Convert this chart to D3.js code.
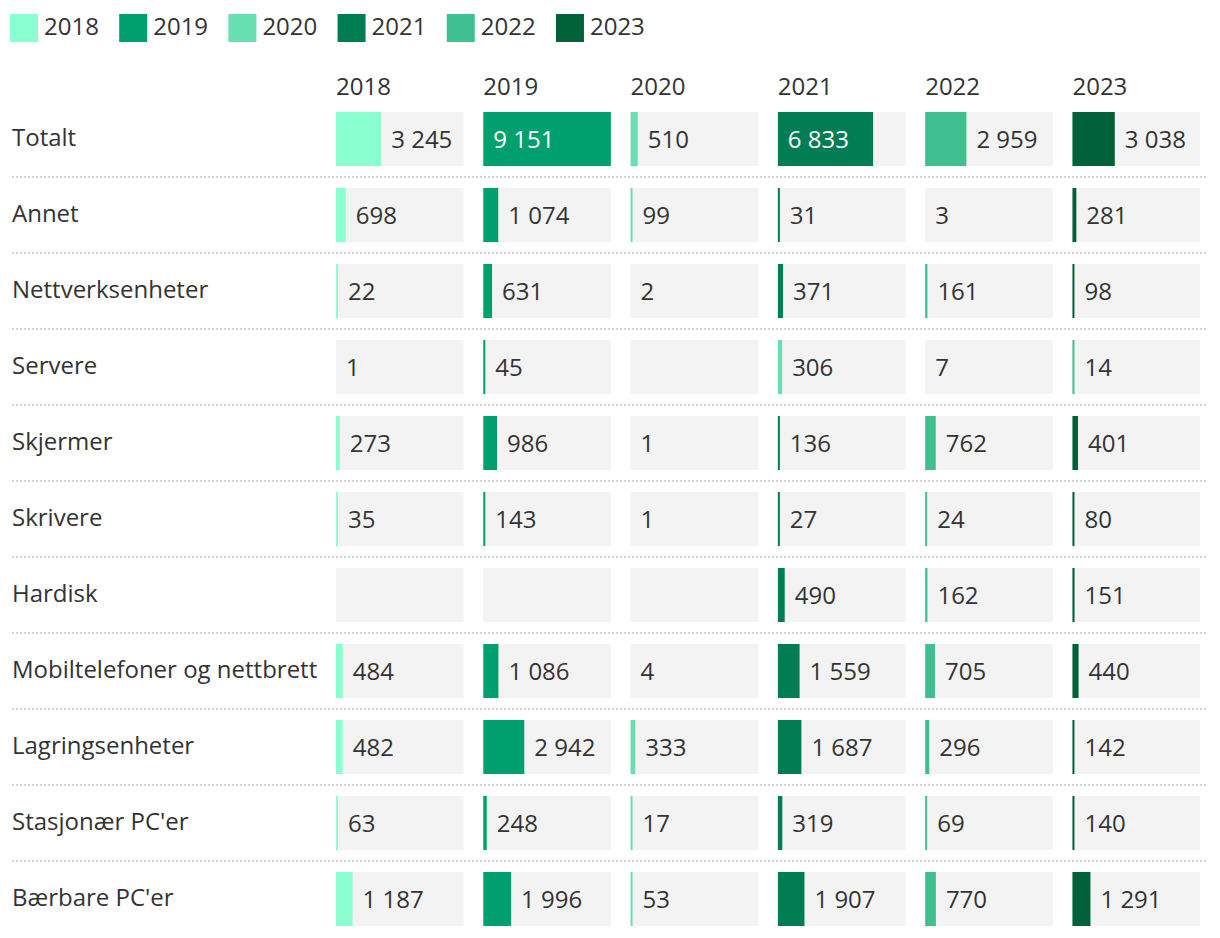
<!DOCTYPE html>
<html>
<head>
<meta charset="utf-8">
<script src="https://cdn.jsdelivr.net/npm/d3@7"></script>
<style>
  html, body { margin: 0; padding: 0; background: #fff; }
  svg { display: block; font-family: "Open Sans", "Noto Sans", sans-serif; }
</style>
</head>
<body>
<svg id="chart" width="1220" height="938"></svg>
<script>
const years = ["2018", "2019", "2020", "2021", "2022", "2023"];
const categories = ["Totalt", "Annet", "Nettverksenheter", "Servere", "Skjermer", "Skrivere", "Hardisk",
  "Mobiltelefoner og nettbrett", "Lagringsenheter", "Stasjonær PC'er", "Bærbare PC'er"];
const colors = ["#8affcf", "#00a06e", "#66e0b0", "#007d52", "#40c090", "#006038"];

const v2018 = [3245, 698, 22, 1, 273, 35, 0, 484, 482, 63, 1187];
const v2019 = [9151, 1074, 631, 45, 986, 143, 0, 1086, 2942, 248, 1996];
const v2020 = [510, 99, 2, null, 1, 1, 0, 4, 333, 17, 53];
const v2021 = [6833, 31, 371, 306, 136, 27, 490, 1559, 1687, 319, 1907];
const v2022 = [2959, 3, 161, 7, 762, 24, 162, 705, 296, 69, 770];
const v2023 = [3038, 281, 98, 14, 401, 80, 151, 440, 142, 140, 1291];
const series = [v2018, v2019, v2020, v2021, v2022, v2023];

const svg = d3.select("#chart");
const textColor = "#333";
const fontSize = 24;

const locale = d3.formatLocale({ decimal: ",", thousands: "\u00a0", grouping: [3], currency: ["", " kr"] });
const fmt = locale.format(",d");

// Legend
const legend = svg.append("g");
let lx = 10;
years.forEach((y, i) => {
  const g = legend.append("g").attr("transform", `translate(${lx},0)`);
  g.append("rect").attr("x", 0).attr("y", 14).attr("width", 28).attr("height", 28).attr("fill", colors[i]);
  const t = g.append("text").attr("x", 34).attr("y", 34.5).attr("font-size", fontSize)
    .attr("fill", textColor).text(y);
  const w = t.node().getComputedTextLength();
  lx += 34 + w + 20.3;
});

// Scales
const x = d3.scaleBand().domain(years).range([336, 1200]).paddingInner(0.134).paddingOuter(0);
const y = d3.scaleBand().domain(categories).range([112, 926]).paddingInner(0.289).paddingOuter(0);
const allVals = series.flat().filter(v => v != null);
const w = d3.scaleLinear().domain([0, d3.max(allVals)]).range([0, x.bandwidth()]);

// Headers
svg.append("g").selectAll("text").data(years).join("text")
  .attr("x", d => x(d)).attr("y", 95).attr("font-size", fontSize).attr("fill", textColor).text(d => d);

// Separators
svg.append("g").selectAll("line").data(categories.slice(0, -1)).join("line")
  .attr("x1", 12).attr("x2", 1208)
  .attr("y1", d => y(d) + y.bandwidth() + 11).attr("y2", d => y(d) + y.bandwidth() + 11)
  .attr("stroke", "#d4d4d4").attr("stroke-width", 2).attr("stroke-dasharray", "2,2");

// Rows
categories.forEach((cat, ri) => {
  const row = svg.append("g");
  row.append("text").attr("x", 12).attr("y", y(cat) + 34).attr("font-size", fontSize)
    .attr("fill", textColor).text(cat);
  let ci = 0;
  years.forEach((yr, yi) => {
    const v = series[yi][ri];
    const cx = x(yr), cy = y(cat);
    row.append("rect").attr("x", cx).attr("y", cy).attr("width", x.bandwidth()).attr("height", y.bandwidth())
      .attr("fill", "#f3f3f3");
    if (v == null) return;
    const col = colors[ci % colors.length];
    ci++;
    if (v === 0) return;
    let bw = v >= 10 ? Math.max(2, w(v)) : 0;
    if (bw > 0) {
      row.append("rect").attr("x", cx).attr("y", cy).attr("width", bw).attr("height", y.bandwidth())
        .attr("fill", col);
    }
    const t = row.append("text").attr("y", cy + 36).attr("font-size", fontSize).text(fmt(v));
    const tw = t.node().getComputedTextLength();
    if (bw >= tw + 20) {
      t.attr("x", cx + 10).attr("fill", "#fff");
    } else {
      t.attr("x", cx + bw + 10).attr("fill", textColor);
    }
  });
});
</script>
</body>
</html>
